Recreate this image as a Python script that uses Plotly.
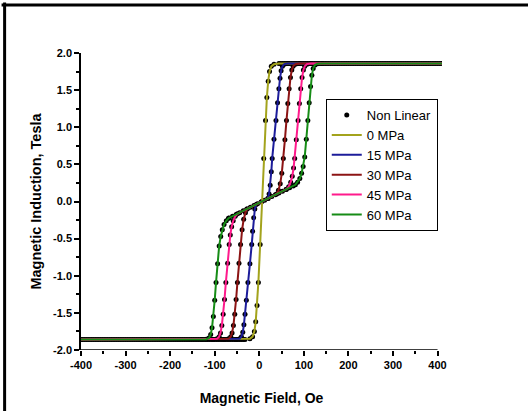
import plotly.graph_objects as go

# ---------------- data ----------------
H_0MPa = [-400, -32, -21, -15, -11, -8, -5, -2, 2, 6, 10, 14, 17, 20, 23, 27, 33, 44, 410]
B_0MPa = [-1.86, -1.86, -1.85, -1.82, -1.75, -1.62, -1.40, -1.09, -0.58, 0.00, 0.58, 1.09, 1.40, 1.62, 1.75, 1.82, 1.85, 1.86, 1.86]

H_15MPa = [-400, -52, -44, -40, -37, -34.5, -32, -29, -25.5, -21, -17, -15, -12.5, -10, -7,
           19, 22, 24.5, 27, 29, 33, 37.5, 41, 44, 46.5, 49, 52, 56, 64, 410]
B_15MPa = [-1.86, -1.86, -1.85, -1.82, -1.76, -1.66, -1.52, -1.33, -1.09, -0.84, -0.58, -0.40, -0.22, -0.10, -0.04,
           0.04, 0.10, 0.22, 0.40, 0.58, 0.84, 1.09, 1.33, 1.52, 1.66, 1.76, 1.82, 1.85, 1.86, 1.86]

H_30MPa = [-400, -79, -69, -64, -61, -58, -55, -52, -49, -45.5, -42, -38.5, -35, -31, -27,
           39, 43, 47, 50.5, 54, 57.5, 61, 64, 67, 70, 73, 76, 81, 91, 410]
B_30MPa = [-1.86, -1.86, -1.85, -1.82, -1.77, -1.67, -1.52, -1.32, -1.09, -0.83, -0.58, -0.38, -0.24, -0.15, -0.10,
           0.10, 0.15, 0.24, 0.38, 0.58, 0.83, 1.09, 1.32, 1.52, 1.67, 1.77, 1.82, 1.85, 1.86, 1.86]

H_45MPa = [-400, -104, -95, -90, -87, -84, -81, -78, -75, -71, -67.5, -65, -62, -58.5, -54, -49,
           61, 66, 70.5, 74, 77, 79.5, 83, 87, 90, 93, 96, 99, 102, 107, 116, 410]
B_45MPa = [-1.86, -1.86, -1.85, -1.82, -1.77, -1.67, -1.52, -1.32, -1.09, -0.83, -0.58, -0.45, -0.34, -0.26, -0.20, -0.165,
           0.165, 0.20, 0.26, 0.34, 0.45, 0.58, 0.83, 1.09, 1.32, 1.52, 1.67, 1.77, 1.82, 1.85, 1.86, 1.86]

H_60MPa = [-400, -129, -119, -113, -109, -106, -103, -100, -97, -93.5, -90, -86.5, -83, -79, -74, -69,
           81, 86, 91, 95, 98.5, 102, 105.5, 109, 112, 115, 118, 121, 125, 131, 141, 410]
B_60MPa = [-1.86, -1.86, -1.855, -1.84, -1.79, -1.70, -1.55, -1.33, -1.09, -0.84, -0.60, -0.47, -0.38, -0.31, -0.26, -0.225,
           0.225, 0.26, 0.31, 0.38, 0.47, 0.60, 0.84, 1.09, 1.33, 1.55, 1.70, 1.79, 1.84, 1.855, 1.86, 1.86]

# "Non Linear" model points on the saturated parts and on the common middle segment
H_nl_low = [-400, -396, -392, -388, -384, -380, -376, -372, -368, -364, -360, -356, -352, -348, -344, -340,
            -336, -332, -328, -324, -320, -316, -312, -308, -304, -300, -296, -292, -288, -284, -280, -276,
            -272, -268, -264, -260, -256, -252, -248, -244, -240, -236, -232, -228, -224, -220, -216, -212,
            -208, -204, -200, -196, -192, -188, -184, -180, -176, -172, -168, -164, -160, -156, -152, -148,
            -144, -140, -136, -132, -128, -124, -120, -116, -112, -108, -104, -100, -96, -92, -88, -84,
            -80, -76, -72, -68, -64, -60, -56, -52, -48, -44, -40, -36]
B_nl_low = [-1.86] * len(H_nl_low)
H_nl_high = [48, 52, 56, 60, 64, 68, 72, 76, 80, 84, 88, 92, 96, 100, 104, 108, 112, 116, 120, 124, 128,
             132, 136, 140, 144, 148, 152, 156, 160, 164, 168, 172, 176, 180, 184, 188, 192, 196, 200, 204,
             208, 212, 216, 220, 224, 228, 232, 236, 240, 244, 248, 252, 256, 260, 264, 268, 272, 276, 280,
             284, 288, 292, 296, 300, 304, 308, 312, 316, 320, 324, 328, 332, 336, 340, 344, 348, 352, 356,
             360, 364, 368, 372, 376, 380, 384, 388, 392, 396, 400, 404, 408]
B_nl_high = [1.86] * len(H_nl_high)
H_nl_mid = [-68, -60, -52, -44, -36, -28, -20, -12, -4, 4, 12, 20, 28, 36, 44, 52, 60, 68, 76]
B_nl_mid = [-0.222, -0.198, -0.174, -0.150, -0.126, -0.102, -0.078, -0.054, -0.030, -0.006,
            0.018, 0.042, 0.066, 0.090, 0.114, 0.138, 0.162, 0.186, 0.210]

series_names = ["0 MPa", "15 MPa", "30 MPa", "45 MPa", "60 MPa"]
series_H = [H_0MPa, H_15MPa, H_30MPa, H_45MPa, H_60MPa]
series_B = [B_0MPa, B_15MPa, B_30MPa, B_45MPa, B_60MPa]
colors = ["#a3a31c", "#1c1c9a", "#8c1414", "#ff1a8c", "#168c16"]

x_ticks = [-400, -300, -200, -100, 0, 100, 200, 300, 400]
y_ticks = [-2.0, -1.5, -1.0, -0.5, 0.0, 0.5, 1.0, 1.5, 2.0]

# ---------------- figure ----------------
fig = go.Figure()

nl_x, nl_y = [], []
nl_x += H_nl_low + H_nl_mid + H_nl_high
nl_y += B_nl_low + B_nl_mid + B_nl_high
for hs, bs in zip(series_H, series_B):
    nl_x += hs[1:-1]
    nl_y += bs[1:-1]

fig.add_trace(go.Scatter(x=nl_x, y=nl_y, mode="markers", name="Non Linear",
                         marker=dict(color="black", size=5, line=dict(width=0))))

for name, hs, bs, c in zip(series_names, series_H, series_B, colors):
    fig.add_trace(go.Scatter(x=hs, y=bs, mode="lines", name=name,
                             line=dict(color=c, width=2)))

bold = dict(family="Liberation Sans, Arial, sans-serif", size=11, color="black", weight="bold")

fig.update_layout(
    width=528, height=411,
    margin=dict(l=81, r=85.5, t=53, b=61),
    paper_bgcolor="white", plot_bgcolor="white",
    showlegend=True,
    legend=dict(x=0.678, y=0.845, xanchor="left", yanchor="top",
                bordercolor="black", borderwidth=1, bgcolor="white",
                font=dict(family="Liberation Sans, Arial, sans-serif", size=13, color="black"),
                tracegroupgap=0, itemwidth=30),
    xaxis=dict(range=[-400, 410], tickvals=x_ticks, ticktext=[str(v) for v in x_ticks],
               automargin=False,
               showgrid=False, zeroline=False, showline=False,
               ticks="outside", ticklen=5, tickwidth=1.5, tickcolor="black",
               minor=dict(ticks="outside", ticklen=3, tickwidth=1.5, tickcolor="black", dtick=50, tick0=0),
               tickfont=bold,
               title=dict(text="Magnetic Field, Oe", standoff=22,
                          font=dict(family="Liberation Sans, Arial, sans-serif", size=14, color="black", weight="bold"))),
    yaxis=dict(range=[-2, 2], tickvals=y_ticks, ticktext=["%.1f" % v for v in y_ticks],
               automargin=False,
               showgrid=False, zeroline=False, showline=True, linecolor="black", linewidth=1.5,
               ticks="outside", ticklen=5, tickwidth=1.5, tickcolor="black",
               minor=dict(ticks="outside", ticklen=3, tickwidth=1.5, tickcolor="black", dtick=0.25, tick0=0),
               tickfont=bold,
               title=dict(text="Magnetic Induction, Tesla", standoff=8,
                          font=dict(family="Liberation Sans, Arial, sans-serif", size=14.5, color="black", weight="bold"))),
    shapes=[
        # x-axis line from -400 to 400
        dict(type="line", xref="x", yref="y", x0=-400, x1=400, y0=-2, y1=-2,
             line=dict(color="black", width=1.5)),
        # page frame (top and left)
        dict(type="line", xref="paper", yref="paper", x0=-0.22, x1=1.3, y0=1.1616, y1=1.1616,
             line=dict(color="black", width=3)),
        dict(type="line", xref="paper", yref="paper", x0=-0.2116, x1=-0.2116, y0=1.1700, y1=-0.3,
             line=dict(color="black", width=3)),
    ],
    annotations=[
        dict(x=-50, y=2.15, xref="x", yref="y", showarrow=False, xanchor="center", yanchor="middle",
             text="<i>B</i><sub>r</sub> − <i>H</i><sub>100</sub>",
             font=dict(family="Liberation Serif, DejaVu Serif, serif", size=15, color="black")),
    ],
)

fig.write_html("out.html")
